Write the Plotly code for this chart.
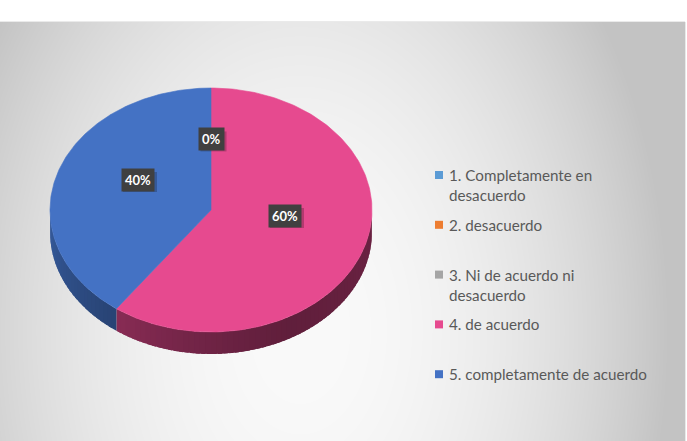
import base64
import struct
import zlib

import numpy as np
import plotly.graph_objects as go

# ---------------- data ----------------
categories = [
    "1. Completamente en desacuerdo",
    "2. desacuerdo",
    "3. Ni de acuerdo ni desacuerdo",
    "4. de acuerdo",
    "5. completamente de acuerdo",
]
legend_lines = [
    ["1. Completamente en", "desacuerdo"],
    ["2. desacuerdo"],
    ["3. Ni de acuerdo ni", "desacuerdo"],
    ["4. de acuerdo"],
    ["5. completamente de acuerdo"],
]
values = [0, 0, 0, 60, 40]
colors = ["#5B9BD5", "#ED7D31", "#A5A5A5", "#E64A8F", "#4472C4"]

# ---------------- geometry (pixels, y measured from top) ----------------
W, H = 687, 441
CX, CY = 211, 210
RX, RY = 161, 122
DEPTH = 22


def Y(py):
    return H - py


def pt(theta_deg, cx=CX, cy=CY, rx=RX, ry=RY, dy=0):
    t = np.radians(theta_deg)
    return cx + rx * np.sin(t), Y(cy - ry * np.cos(t) + dy)


def hex_rgb(h):
    h = h.lstrip("#")
    return tuple(int(h[i:i + 2], 16) for i in (0, 2, 4))


def shade(hexcol, f):
    r, g, b = hex_rgb(hexcol)
    return "rgb(%d,%d,%d)" % (r * f, g * f, b * f)


# ---------------- background gradient image ----------------
def png_gray(arr):
    h, w = arr.shape
    raw = b"".join(b"\x00" + arr[i].tobytes() for i in range(h))

    def chunk(t, d):
        c = struct.pack(">I", len(d)) + t + d
        return c + struct.pack(">I", zlib.crc32(t + d) & 0xFFFFFFFF)

    return (b"\x89PNG\r\n\x1a\n"
            + chunk(b"IHDR", struct.pack(">IIBBBBB", w, h, 8, 0, 0, 0, 0))
            + chunk(b"IDAT", zlib.compress(raw, 9))
            + chunk(b"IEND", b""))


BG_X0, BG_Y0, BG_W, BG_H = 0, 22, 685, 419
yy, xx = np.mgrid[0:BG_H, 0:BG_W]
px = xx + BG_X0
py = yy + BG_Y0
d2 = ((px - 300) / 380.0) ** 2 + ((py - 330) / 560.0) ** 2
g = np.clip(250 - 58 * d2, 195, 250).astype(np.uint8)
bg_src = "data:image/png;base64," + base64.b64encode(png_gray(g)).decode()

fig = go.Figure()

total = sum(values)
# slice angles: Excel starts at 12 o'clock, clockwise
starts, ends = [], []
acc = 0.0
for v in values:
    a0 = acc / total * 360
    acc += v
    a1 = acc / total * 360
    starts.append(a0)
    ends.append(a1)


def side_factor(th):
    if th >= 150:
        return 0.42 + 0.38 * ((th - 150) / 120.0) ** 1.3
    return 0.42 + 0.05 * (150 - th) / 60.0


# ---------------- sides (front half only) ----------------
for v, a0, a1, col in zip(values, starts, ends, colors):
    lo, hi = max(a0, 90), min(a1, 270)
    if v == 0 or hi <= lo:
        continue
    n = max(2, int((hi - lo) / 2))
    edges = np.linspace(lo, hi, n + 1)
    for s0, s1 in zip(edges[:-1], edges[1:]):
        s1e = min(s1 + 1.5, hi)  # overlap the next segment to avoid seams
        ths = np.linspace(s0, s1e, 5)
        top = [pt(t) for t in ths]
        bot = [pt(t, dy=DEPTH) for t in ths[::-1]]
        xs = [p[0] for p in top + bot] + [top[0][0]]
        ys = [p[1] for p in top + bot] + [top[0][1]]
        c = shade(col, side_factor((s0 + s1) / 2))
        fig.add_trace(go.Scatter(x=xs, y=ys, mode="lines", fill="toself",
                                 fillcolor=c, line=dict(width=0),
                                 hoverinfo="skip", showlegend=False))

# ---------------- top faces ----------------
for v, a0, a1, col, cat in zip(values, starts, ends, colors, categories):
    if v == 0:
        continue
    ths = np.linspace(a0, a1, 200)
    arc = [pt(t) for t in ths]
    xs = [CX] + [p[0] for p in arc] + [CX]
    ys = [Y(CY)] + [p[1] for p in arc] + [Y(CY)]
    fig.add_trace(go.Scatter(x=xs, y=ys, mode="lines", fill="toself",
                             fillcolor=col, line=dict(color=col, width=0.6),
                             name=cat, hoverinfo="name", showlegend=False))

# ---------------- data labels ----------------
annotations = []
shapes = []
LAB_R = 0.48
LAB_CY = CY - 12
seen = set()
for v, a0, a1 in zip(values, starts, ends):
    mid = (a0 + a1) / 2
    lx, ly = pt(mid, cy=LAB_CY, rx=RX * LAB_R, ry=RY * LAB_R)
    txt = "%d%%" % round(v / total * 100)
    key = (round(lx), round(ly), txt)
    if key in seen:
        continue
    seen.add(key)
    bw = 9 + 8 * len(txt)
    # soft shadow behind the label box
    shapes.append(dict(type="rect", xref="x", yref="y",
                       x0=lx - bw / 2 + 2, x1=lx + bw / 2 + 3,
                       y0=ly - 12, y1=ly + 8,
                       fillcolor="rgba(0,0,0,0.22)", line=dict(width=0)))
    annotations.append(dict(x=lx, y=ly, xref="x", yref="y", text="<b>%s</b>" % txt,
                            showarrow=False, bgcolor="#404040", borderpad=3,
                            font=dict(family="Lato", size=13, color="white")))

# ---------------- legend (manual) ----------------
LEG_X_MARK, LEG_X_TEXT = 435, 447
LEG_Y0, LEG_STEP, LINE_STEP = 175, 49.8, 20
for i, (lines, col) in enumerate(zip(legend_lines, colors)):
    y0 = LEG_Y0 + LEG_STEP * i
    shapes.append(dict(type="rect", xref="x", yref="y",
                       x0=LEG_X_MARK, x1=LEG_X_MARK + 8,
                       y0=Y(y0 - 4), y1=Y(y0 + 4),
                       fillcolor=col, line=dict(width=0)))
    for j, ln in enumerate(lines):
        annotations.append(dict(x=LEG_X_TEXT, y=Y(y0 + LINE_STEP * j),
                                xref="x", yref="y", text=ln, showarrow=False,
                                xanchor="left", yanchor="middle",
                                font=dict(family="Lato", size=15.2, color="#595959")))

# legend box
shapes.append(dict(type="rect", xref="x", yref="y", layer="below",
                   x0=430, x1=653, y0=Y(410), y1=Y(160),
                   fillcolor="rgba(255,255,255,0.45)", line=dict(width=0)))

# pie drop shadow
for k in range(6):
    shapes.append(dict(type="circle", xref="x", yref="y", layer="below",
                       x0=CX - RX - 1 - k * 1.5, x1=CX + RX + 3 + k * 1.5,
                       y0=Y(CY + RY + DEPTH + 4 + k * 1.5),
                       y1=Y(CY - RY + 8 - k * 1.5),
                       fillcolor="rgba(0,0,0,0.035)", line=dict(width=0)))

# chart frame border
shapes.append(dict(type="rect", xref="x", yref="y", layer="below",
                   x0=0, x1=685, y0=Y(441), y1=Y(22),
                   fillcolor="rgba(0,0,0,0)", line=dict(color="#d4d4d4", width=1)))

fig.update_layout(
    width=W, height=H,
    margin=dict(l=0, r=0, t=0, b=0),
    paper_bgcolor="white", plot_bgcolor="white",
    xaxis=dict(range=[0, W], visible=False, fixedrange=True),
    yaxis=dict(range=[0, H], visible=False, fixedrange=True),
    showlegend=False,
    annotations=annotations,
    shapes=shapes,
    images=[dict(source=bg_src, xref="x", yref="y", x=BG_X0, y=Y(BG_Y0),
                 sizex=BG_W, sizey=BG_H, sizing="stretch",
                 xanchor="left", yanchor="top", layer="below")],
)

fig.write_html("out.html")
